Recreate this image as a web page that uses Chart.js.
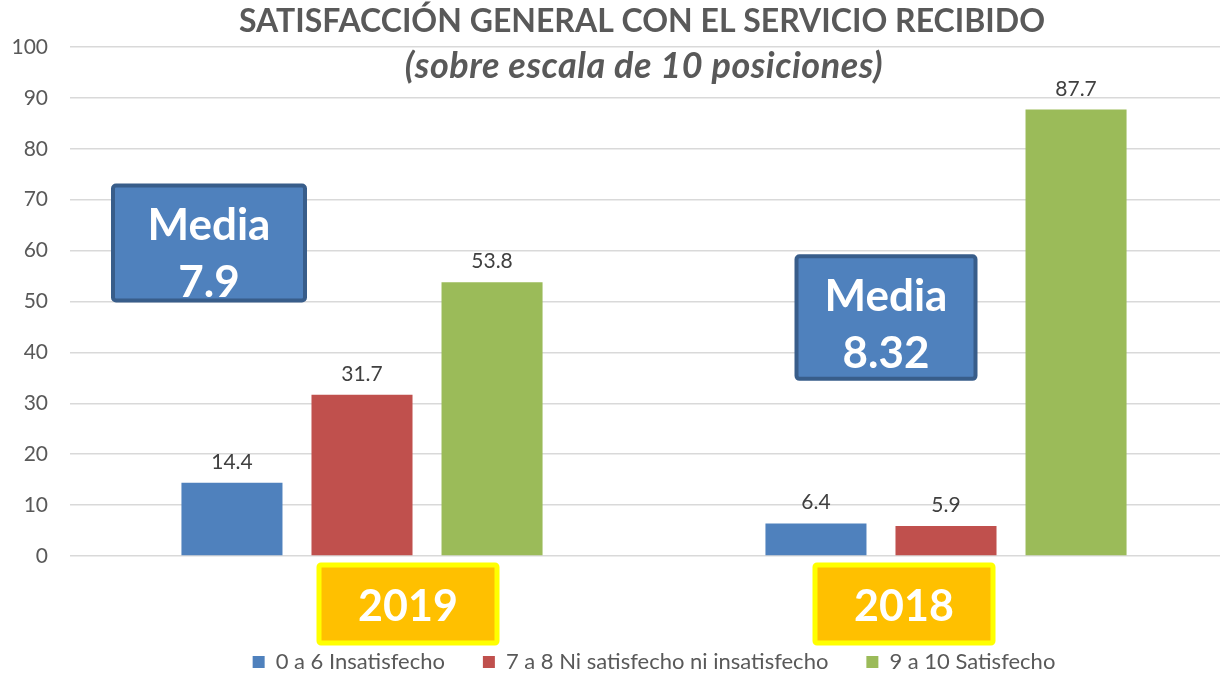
<!DOCTYPE html>
<html>
<head>
<meta charset="utf-8">
<script src="https://cdn.jsdelivr.net/npm/chart.js@4/dist/chart.umd.min.js"></script>
<style>
    html, body { margin: 0; padding: 0; background: #fff; overflow: hidden; }
    #wrap { width: 1284px; height: 674px; }
</style>
</head>
<body>
<div id="wrap"><canvas id="chart" width="1284" height="674"></canvas></div>
<script>
const years = ['2019', '2018'];
const insatisfecho = [14.4, 6.4];
const neutro = [31.7, 5.9];
const satisfecho = [53.8, 87.7];
const medias = ['7.9', '8.32'];
const seriesNames = ['0 a 6 Insatisfecho', '7 a 8 Ni satisfecho ni insatisfecho', '9 a 10 Satisfecho'];
const yTickValues = [0, 10, 20, 30, 40, 50, 60, 70, 80, 90, 100];

const FONT = 'Lato, "Open Sans", sans-serif';
const GREY = '#595959';

// title, subtitle, media boxes, year boxes, value labels
const decorations = {
    id: 'decorations',
    afterDatasetsDraw(chart) {
        const ctx = chart.ctx;

        // value labels
        ctx.save();
        ctx.font = '21px ' + FONT;
        ctx.fillStyle = '#404040';
        ctx.textAlign = 'center';
        ctx.textBaseline = 'alphabetic';
        chart.data.datasets.forEach((ds, di) => {
            chart.getDatasetMeta(di).data.forEach((bar, i) => {
                ctx.fillText(ds.data[i].toFixed(1), bar.x, bar.y - 14);
            });
        });
        ctx.restore();
    },
    afterDraw(chart) {
        const ctx = chart.ctx;
        const x = chart.scales.x;
        const y = chart.scales.y;

        ctx.save();
        ctx.textAlign = 'center';
        ctx.textBaseline = 'alphabetic';
        ctx.fillStyle = GREY;
        ctx.font = 'bold 32px ' + FONT;
        ctx.fillText('SATISFACCIÓN GENERAL CON EL SERVICIO RECIBIDO', 642, 32);
        ctx.font = 'italic bold 36px ' + FONT;
        ctx.letterSpacing = '0.5px';
        ctx.fillText('(sobre escala de 10 posiciones)', 644, 78);
        ctx.letterSpacing = '0px';

        // media boxes
        const mediaBoxes = [
            { dx: -153, w: 192, top: 72.8, bottom: 50.2 },
            { dx: -60, w: 179, top: 58.9, bottom: 34.8 }
        ];
        mediaBoxes.forEach((b, i) => {
            const cx = x.getPixelForValue(i) + b.dx;
            const t = y.getPixelForValue(b.top);
            const h = y.getPixelForValue(b.bottom) - t;
            ctx.fillStyle = '#4F81BD';
            ctx.strokeStyle = '#385D8A';
            ctx.lineWidth = 4;
            ctx.beginPath();
            ctx.roundRect(cx - b.w / 2, t, b.w, h, 3);
            ctx.fill();
            ctx.stroke();
            ctx.fillStyle = '#fff';
            ctx.font = 'bold 44px ' + FONT;
            ctx.fillText('Media', cx, t + 55);
            ctx.fillText(medias[i], cx, t + 112);
        });

        // year boxes under the axis
        const yearOffsets = [46, -42];
        years.forEach((yr, i) => {
            const cx = x.getPixelForValue(i) + yearOffsets[i];
            const top = chart.chartArea.bottom + 9;
            ctx.fillStyle = '#FFC000';
            ctx.strokeStyle = '#FFFF00';
            ctx.lineWidth = 5;
            ctx.beginPath();
            ctx.roundRect(cx - 89, top, 178, 78, 2);
            ctx.fill();
            ctx.stroke();
            ctx.fillStyle = '#fff';
            ctx.font = 'bold 43px ' + FONT;
            ctx.fillText(yr, cx, top + 56);
        });
        ctx.restore();
    }
};

new Chart(document.getElementById('chart'), {
    type: 'bar',
    data: {
        labels: years,
        datasets: [
            { label: seriesNames[0], data: insatisfecho, backgroundColor: '#4F81BD' },
            { label: seriesNames[1], data: neutro, backgroundColor: '#C0504D' },
            { label: seriesNames[2], data: satisfecho, backgroundColor: '#9BBB59' }
        ]
    },
    options: {
        responsive: false,
        animation: false,
        categoryPercentage: 0.668,
        barPercentage: 0.777,
        layout: { padding: { top: 47, right: 46, left: 0, bottom: -9 } },
        plugins: {
            title: { display: false },
            tooltip: { enabled: false },
            legend: {
                position: 'bottom',
                fullSize: false,
                labels: {
                    boxWidth: 12,
                    boxHeight: 12,
                    padding: 38,
                    color: GREY,
                    font: { family: FONT, size: 22 }
                }
            }
        },
        scales: {
            x: {
                grid: { display: false },
                border: { display: false },
                ticks: { display: false },
                afterFit(scale) { scale.height = 57; }
            },
            y: {
                min: 0,
                max: 100,
                afterFit(scale) { scale.width = 70; },
                afterBuildTicks(scale) { scale.ticks = yTickValues.map(v => ({ value: v })); },
                grid: { color: '#D9D9D9', lineWidth: 1.5, drawTicks: false },
                border: { display: false },
                ticks: { color: GREY, padding: 22, font: { family: FONT, size: 21 } }
            }
        }
    },
    plugins: [decorations]
});
</script>
</body>
</html>
